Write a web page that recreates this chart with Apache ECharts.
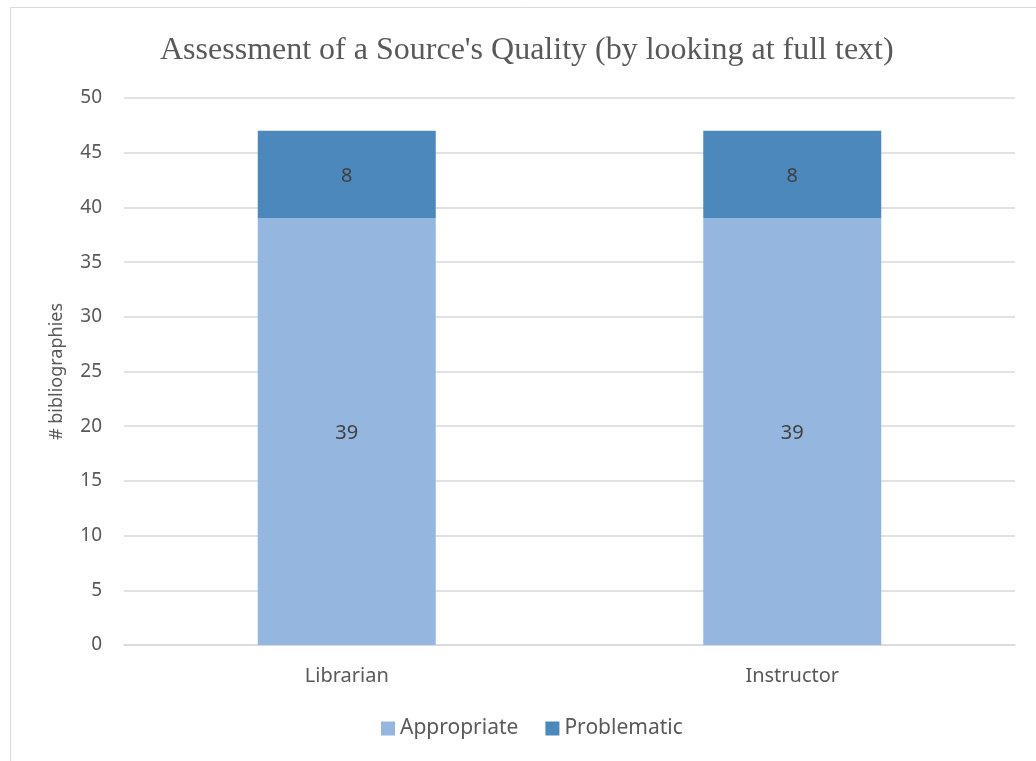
<!DOCTYPE html>
<html>
<head>
<meta charset="utf-8">
<title>Assessment of a Source's Quality</title>
<script src="https://cdn.jsdelivr.net/npm/echarts@6/dist/echarts.min.js"></script>
<style>
  html, body { margin: 0; padding: 0; background: #fff; }
  #chart { width: 1036px; height: 761px; }
</style>
</head>
<body>
<div id="chart"></div>
<script>
// data
const categories = ['Librarian', 'Instructor']
const appropriate = [39, 39]
const problematic = [8, 8]
const yTicks = { min: 0, max: 50, interval: 5 }

const textColor = '#595959'
const font = '"Noto Sans", "Open Sans", sans-serif'

const chart = echarts.init(document.getElementById('chart'))

chart.setOption({
  animation: false,
  textStyle: { fontFamily: font },
  // light frame around the chart area, like the Excel chart border
  graphic: [{
    type: 'rect',
    shape: { x: 10.5, y: 7.5, width: 1200, height: 900 },
    style: { fill: 'none', stroke: '#d9d9d9', lineWidth: 1 },
    silent: true
  }],
  title: {
    text: "Assessment of a Source's Quality (by looking at full text)",
    left: 155,
    top: 30,
    textStyle: {
      fontFamily: '"Liberation Serif", "DejaVu Serif", serif',
      fontWeight: 'normal',
      fontSize: 32,
      color: textColor
    }
  },
  legend: {
    bottom: 17,
    left: 376,
    itemWidth: 14,
    itemHeight: 14,
    itemGap: 27,
    icon: 'rect',
    textStyle: { fontSize: 21, color: textColor, fontFamily: font },
    data: ['Appropriate', 'Problematic']
  },
  grid: {
    left: 124,
    right: 21,
    top: 98,
    bottom: 116
  },
  xAxis: {
    type: 'category',
    data: categories,
    axisLine: { show: true, lineStyle: { color: '#d9d9d9', width: 1.5 } },
    axisTick: { show: false },
    axisLabel: { fontSize: 20, color: textColor, margin: 21 }
  },
  yAxis: {
    type: 'value',
    min: yTicks.min,
    max: yTicks.max,
    interval: yTicks.interval,
    name: '# bibliographies',
    nameLocation: 'middle',
    nameGap: 58,
    nameTextStyle: { fontSize: 18, color: textColor },
    axisLine: { show: false },
    axisTick: { show: false },
    axisLabel: { fontSize: 19, color: textColor, margin: 22 },
    splitLine: { lineStyle: { color: '#d9d9d9', width: 1.5 } }
  },
  series: [{
    name: 'Appropriate',
    type: 'bar',
    stack: 'total',
    barWidth: 178,
    data: appropriate,
    itemStyle: { color: '#95b7df' },
    label: { show: true, position: 'inside', fontSize: 20, color: '#404040', offset: [0, 2] }
  }, {
    name: 'Problematic',
    type: 'bar',
    stack: 'total',
    barWidth: 178,
    data: problematic,
    itemStyle: { color: '#4d88bd' },
    label: { show: true, position: 'inside', fontSize: 20, color: '#404040', offset: [0, 2] }
  }]
})
</script>
</body>
</html>
